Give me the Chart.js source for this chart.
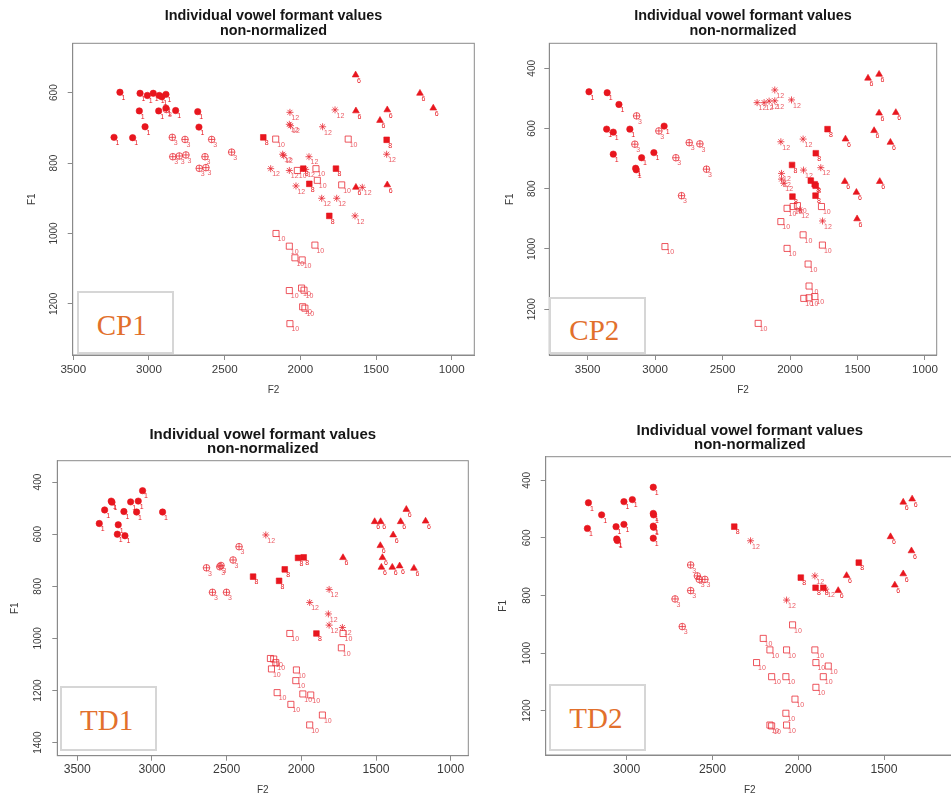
<!DOCTYPE html>
<html><head><meta charset="utf-8">
<script src="https://cdn.jsdelivr.net/npm/chart.js@4.4.1/dist/chart.umd.min.js"></script>
<style>
html,body{margin:0;padding:0;background:#fff;overflow:hidden;width:951px;height:796px;position:relative;}
.panel{position:absolute;}
.panel canvas{display:block;}
.tag{position:absolute;background:#fff;border:2px solid #d6d6d6;box-sizing:border-box;}
.tagtxt{position:absolute;font-family:"Liberation Serif","Times New Roman",serif;font-size:29px;line-height:29px;color:#e2702c;white-space:nowrap;}
</style></head><body>
<script>
// ---------------- data ----------------
const vowelCodes = ['1', '3', '6', '8', '10', '12'];
const panelNames = ['CP1', 'CP2', 'TD1', 'TD2'];
const titleLines = ['Individual vowel formant values', 'non-normalized'];
const xAxisTitle = 'F2';
const yAxisTitle = 'F1';

// tick labels
const cp1XTicks = [3500, 3000, 2500, 2000, 1500, 1000];
const cp1YTicks = [600, 800, 1000, 1200];
const cp2XTicks = [3500, 3000, 2500, 2000, 1500, 1000];
const cp2YTicks = [400, 600, 800, 1000, 1200];
const td1XTicks = [3500, 3000, 2500, 2000, 1500, 1000];
const td1YTicks = [400, 600, 800, 1000, 1200, 1400];
const td2XTicks = [3000, 2500, 2000, 1500];
const td2YTicks = [400, 600, 800, 1000, 1200];

// axis ranges [min, max]
const cp1XRange = [851, 3504],  cp1YRange = [460, 1345];
const cp2XRange = [913, 3784],  cp2YRange = [317, 1352];
const td1XRange = [882, 3634],  td1YRange = [318, 1450];
const td2XRange = [1092, 3472], td2YRange = [318, 1354];

// points: [F2, F1]
const cp1_v1 = [[3192,599],[3059,602],[3011,608],[2972,602],[2932,608],[2915,612],[2888,605],[3064,652],[2936,652],[2888,644],[2824,651],[2678,654],[3026,697],[2670,698],[3231,727],[3108,728]];
const cp1_v3 = [[2885,648],[2846,727],[2762,733],[2586,733],[2454,769],[2843,782],[2800,780],[2756,777],[2630,782],[2668,815],[2624,813]];
const cp1_v6 = [[1635,550],[1210,602],[1122,644],[1633,652],[1426,649],[1474,679],[1633,869],[1426,862]];
const cp1_v8 = [[2245,727],[1430,734],[1981,816],[1765,816],[1941,859],[1809,950]];
const cp1_v10 = [[2163,732],[1684,732],[2020,821],[1897,816],[1888,849],[1727,862],[2161,1000],[2073,1036],[1904,1033],[2036,1069],[1988,1075],[2073,1162],[1992,1155],[1976,1161],[1985,1208],[1970,1212],[2069,1256]];
const cp1_v12 = [[2069,656],[1771,649],[2073,690],[2065,694],[1853,697],[2117,775],[2110,779],[1943,782],[1430,775],[2196,816],[2073,821],[1965,818],[2029,865],[1591,869],[1859,900],[1760,900],[1639,950]];

const cp2_v1 = [[3490,478],[3355,481],[3268,520],[3359,602],[3310,612],[3187,602],[2933,592],[3310,685],[3100,697],[3009,680],[3144,732],[3140,737]];
const cp2_v3 = [[3137,558],[2972,608],[3150,652],[2747,647],[2668,651],[2846,697],[2619,735],[2804,823]];
const cp2_v6 = [[1422,433],[1340,420],[1340,549],[1216,547],[1377,607],[1589,635],[1256,646],[1594,776],[1335,776],[1508,812],[1503,900]];
const cp2_v8 = [[1722,602],[1809,682],[1985,721],[1846,773],[1817,785],[1810,790],[1811,823],[1982,826]];
const cp2_v10 = [[2927,992],[2236,1247],[2068,909],[2022,865],[1977,859],[1945,856],[1767,859],[1903,953],[2022,998],[1760,987],[1866,1050],[1859,1123],[1898,1164],[1859,1162],[1816,1158]];
const cp2_v12 = [[2113,472],[2244,514],[2192,514],[2155,509],[2113,508],[1989,505],[2068,644],[1903,635],[1900,738],[1772,730],[2063,749],[2063,768],[2046,782],[1928,870],[1759,907]];

const td1_v1 = [[3353,559],[3317,507],[3273,473],[3268,477],[3226,564],[3188,513],[3232,600],[3181,606],[3143,476],[3092,473],[3103,515],[3063,433],[2929,515]];
const td1_v3 = [[2635,729],[2546,725],[2538,720],[2457,699],[2417,648],[2595,823],[2501,823]];
const td1_v6 = [[1509,552],[1469,552],[1297,505],[1335,552],[1168,550],[1385,603],[1471,644],[1457,690],[1721,690],[1464,727],[1391,727],[1342,722],[1246,731]];
const td1_v8 = [[2323,763],[2149,779],[2111,735],[2022,691],[1984,689],[1899,981]];
const td1_v10 = [[2077,981],[1721,981],[1732,1036],[2207,1077],[2185,1079],[2171,1093],[2200,1117],[2033,1121],[2037,1162],[2162,1208],[1990,1213],[1937,1217],[2070,1253],[1859,1294],[1944,1332]];
const td1_v12 = [[2238,603],[1814,812],[1944,862],[1819,906],[1814,949],[1725,958]];

const td2_v1 = [[3223,478],[3229,567],[3146,520],[3062,561],[3016,474],[3016,553],[2967,467],[2845,424],[2845,515],[2843,520],[2845,559],[2843,563],[2845,601],[3058,604],[3055,609]];
const td2_v3 = [[2627,694],[2588,732],[2577,744],[2544,744],[2627,783],[2718,812],[2676,908]];
const td2_v6 = [[1767,783],[1718,731],[1462,596],[1388,476],[1336,465],[1340,645],[1388,725],[1437,764]];
const td2_v8 = [[2373,561],[1985,738],[1899,773],[1854,773],[1647,686]];
const td2_v10 = [[2033,902],[2204,949],[2165,989],[2068,989],[1903,989],[2243,1033],[1897,1033],[1825,1045],[2155,1082],[2072,1082],[1854,1082],[1897,1119],[2019,1160],[2072,1209],[2165,1250],[2155,1253],[2068,1250]];
const td2_v12 = [[2278,610],[1903,732],[1840,778],[2068,816]];

// ---------------- layout / style (pixel geometry) ----------------
const FILL = '#e8161e';
const OPEN = 'rgba(232,44,54,0.8)';
const LABEL_OPEN = 'rgba(232,60,70,0.85)';
const AXIS = '#8a8a8a';
const TICKTXT = '#3a3a3a';
const SANS = '"Liberation Sans", Arial, Helvetica, sans-serif';

const layouts = [
  {box:{left:0,top:0,w:480,h:400},   area:{l:72.7,t:43.3,r:474.3,b:355}, t1:16.5,    yLab:54.7,  f1:32,   xLab:370,   f2:390, tfs:14.4, xfs:11.6,
   tag:{l:77,t:291,w:97,h:63, tx:96.7, base:335}},
  {box:{left:480,top:0,w:471,h:400}, area:{l:549.3,t:43.3,r:936.7,b:355}, t1:16.5,   yLab:532.7, f1:510,  xLab:370,   f2:390, tfs:14.4, xfs:11.6,
   tag:{l:549,t:297,w:97,h:57, tx:569.3, base:340}},
  {box:{left:0,top:415,w:480,h:381}, area:{l:57.3,t:460.7,r:468.3,b:755.7}, t1:434.5, yLab:38.3, f1:15.5, xLab:770, f2:790, tfs:15, xfs:12.2,
   tag:{l:60,t:686,w:97,h:65, tx:80, base:730}},
  {box:{left:480,top:415,w:480,h:381}, area:{l:545.7,t:456.7,r:954,b:755}, t1:430.5, yLab:527, f1:503, xLab:769.3, f2:790, tfs:15, xfs:12.2,
   tag:{l:549,t:684,w:97,h:67, tx:569.3, base:728.3}}
];

const panelData = [
  {sets:[cp1_v1,cp1_v3,cp1_v6,cp1_v8,cp1_v10,cp1_v12], xt:cp1XTicks, yt:cp1YTicks, xr:cp1XRange, yr:cp1YRange},
  {sets:[cp2_v1,cp2_v3,cp2_v6,cp2_v8,cp2_v10,cp2_v12], xt:cp2XTicks, yt:cp2YTicks, xr:cp2XRange, yr:cp2YRange},
  {sets:[td1_v1,td1_v3,td1_v6,td1_v8,td1_v10,td1_v12], xt:td1XTicks, yt:td1YTicks, xr:td1XRange, yr:td1YRange},
  {sets:[td2_v1,td2_v3,td2_v6,td2_v8,td2_v10,td2_v12], xt:td2XTicks, yt:td2YTicks, xr:td2XRange, yr:td2YRange}
];

// marker style for each vowel code (R pch look-alikes)
const markerStyles = {
  '1':  [{pointStyle:'circle', radius:3.2, bg:FILL, bc:FILL, bw:0.6}],
  '3':  [{pointStyle:'circle', radius:3.3, bg:'rgba(0,0,0,0)', bc:OPEN, bw:1}, {pointStyle:'cross', radius:3.3, bg:'rgba(0,0,0,0)', bc:OPEN, bw:1}],
  '6':  [{pointStyle:'triangle', radius:3.9, bg:FILL, bc:FILL, bw:0.6}],
  '8':  [{pointStyle:'rect', radius:4.0, bg:FILL, bc:FILL, bw:0.6}],
  '10': [{pointStyle:'rect', radius:4.3, bg:'rgba(0,0,0,0)', bc:OPEN, bw:1}],
  '12': [{pointStyle:'star', radius:3.5, bg:'rgba(0,0,0,0)', bc:OPEN, bw:1}]
};
const filledCodes = ['1','6','8'];

const codeLabelPlugin = {
  id: 'codeLabels',
  afterDatasetsDraw(chart) {
    const ctx = chart.ctx;
    ctx.save();
    ctx.font = '7px ' + SANS;
    ctx.textAlign = 'left';
    ctx.textBaseline = 'middle';
    chart.data.datasets.forEach((ds, i) => {
      if (!ds.codeLabel) return;
      ctx.fillStyle = filledCodes.includes(ds.codeLabel) ? FILL : LABEL_OPEN;
      chart.getDatasetMeta(i).data.forEach(pt => {
        ctx.fillText(ds.codeLabel, pt.x + 1.5, pt.y + 5.8);
      });
    });
    ctx.restore();
  }
};
const boxPlugin = {
  id: 'plotBox',
  afterDraw(chart) {
    const a = chart.chartArea, ctx = chart.ctx;
    ctx.save();
    ctx.strokeStyle = AXIS;
    ctx.lineWidth = 1;
    ctx.strokeRect(a.left, a.top, a.right - a.left, a.bottom - a.top);
    ctx.restore();
  }
};

function makePanel(idx) {
  const L = layouts[idx], P = panelData[idx];
  const div = document.createElement('div');
  div.className = 'panel';
  div.style.left = L.box.left + 'px'; div.style.top = L.box.top + 'px';
  div.style.width = L.box.w + 'px'; div.style.height = L.box.h + 'px';
  const cv = document.createElement('canvas');
  cv.width = L.box.w; cv.height = L.box.h;
  cv.style.width = L.box.w + 'px'; cv.style.height = L.box.h + 'px';
  div.appendChild(cv);
  document.body.appendChild(div);

  const datasets = [];
  vowelCodes.forEach((code, ci) => {
    const pts = P.sets[ci].map(p => ({x: p[0], y: p[1]}));
    markerStyles[code].forEach((m, mi) => {
      datasets.push({
        label: code, data: pts, codeLabel: mi === 0 ? code : null,
        pointStyle: m.pointStyle, pointRadius: m.radius, pointHoverRadius: m.radius,
        backgroundColor: m.bg, borderColor: m.bc, pointBorderWidth: m.bw, showLine: false
      });
    });
  });

  const titleLH = 14.6, yfs = 10, tickLH = L.xfs * 1.2, axTitleLH = 12, tl = 5, widestHalf = yfs * 1.112;
  const titlePadTop = L.t1 - L.box.top - titleLH / 2;
  const titlePadBottom = L.area.t - L.box.top - titlePadTop - 2 * titleLH;
  const yW = L.area.l - L.box.left;
  const xH = L.box.top + L.box.h - L.area.b;

  new Chart(cv, {
    type: 'scatter',
    data: {datasets},
    plugins: [codeLabelPlugin, boxPlugin],
    options: {
      responsive: false, animation: false, devicePixelRatio: 1,
      layout: {padding: {left: 0, top: 0, bottom: 0, right: L.box.left + L.box.w - L.area.r}},
      plugins: {
        legend: {display: false}, tooltip: {enabled: false},
        title: {display: true, text: titleLines, fullSize: false, color: '#161616',
          font: {family: SANS, size: L.tfs, weight: 'bold', lineHeight: titleLH + 'px'},
          padding: {top: titlePadTop, bottom: titlePadBottom}}
      },
      scales: {
        x: {
          type: 'linear', position: 'bottom', reverse: true, min: P.xr[0], max: P.xr[1],
          afterBuildTicks: s => { s.ticks = P.xt.map(v => ({value: v})); },
          afterFit: s => { s.height = xH; },
          ticks: {autoSkip: false, maxRotation: 0, minRotation: 0, color: TICKTXT,
            font: {family: SANS, size: L.xfs}, padding: (L.xLab - L.area.b) - tl - tickLH / 2,
            callback: v => String(v)},
          grid: {display: true, drawOnChartArea: false, drawTicks: true, tickLength: tl, color: AXIS},
          border: {display: true, color: AXIS},
          title: {display: true, text: xAxisTitle, color: TICKTXT, font: {family: SANS, size: 10},
            padding: {top: 0, bottom: (L.box.top + L.box.h - L.f2) - axTitleLH / 2}}
        },
        y: {
          type: 'linear', position: 'left', reverse: true, min: P.yr[0], max: P.yr[1],
          afterBuildTicks: s => { s.ticks = P.yt.map(v => ({value: v})); },
          afterFit: s => { s.width = yW; },
          ticks: {autoSkip: false, minRotation: 90, maxRotation: 90, crossAlign: 'center', color: TICKTXT,
            font: {family: SANS, size: yfs}, padding: (L.area.l - L.yLab) - tl - widestHalf,
            callback: v => String(v)},
          grid: {display: true, drawOnChartArea: false, drawTicks: true, tickLength: tl, color: AXIS},
          border: {display: true, color: AXIS},
          title: {display: true, text: yAxisTitle, color: TICKTXT, font: {family: SANS, size: 10},
            padding: {top: (L.f1 - L.box.left) - axTitleLH / 2, bottom: 0}}
        }
      }
    }
  });

  // panel tag box (CP1, CP2, ...)
  const tag = document.createElement('div');
  tag.className = 'tag';
  tag.style.left = L.tag.l + 'px'; tag.style.top = L.tag.t + 'px';
  tag.style.width = L.tag.w + 'px'; tag.style.height = L.tag.h + 'px';
  document.body.appendChild(tag);
  const txt = document.createElement('div');
  txt.className = 'tagtxt';
  txt.textContent = panelNames[idx];
  txt.style.left = L.tag.tx + 'px';
  txt.style.top = (L.tag.base - 24.3) + 'px';
  document.body.appendChild(txt);
}

panelNames.forEach((n, i) => makePanel(i));
</script>
</body></html>
